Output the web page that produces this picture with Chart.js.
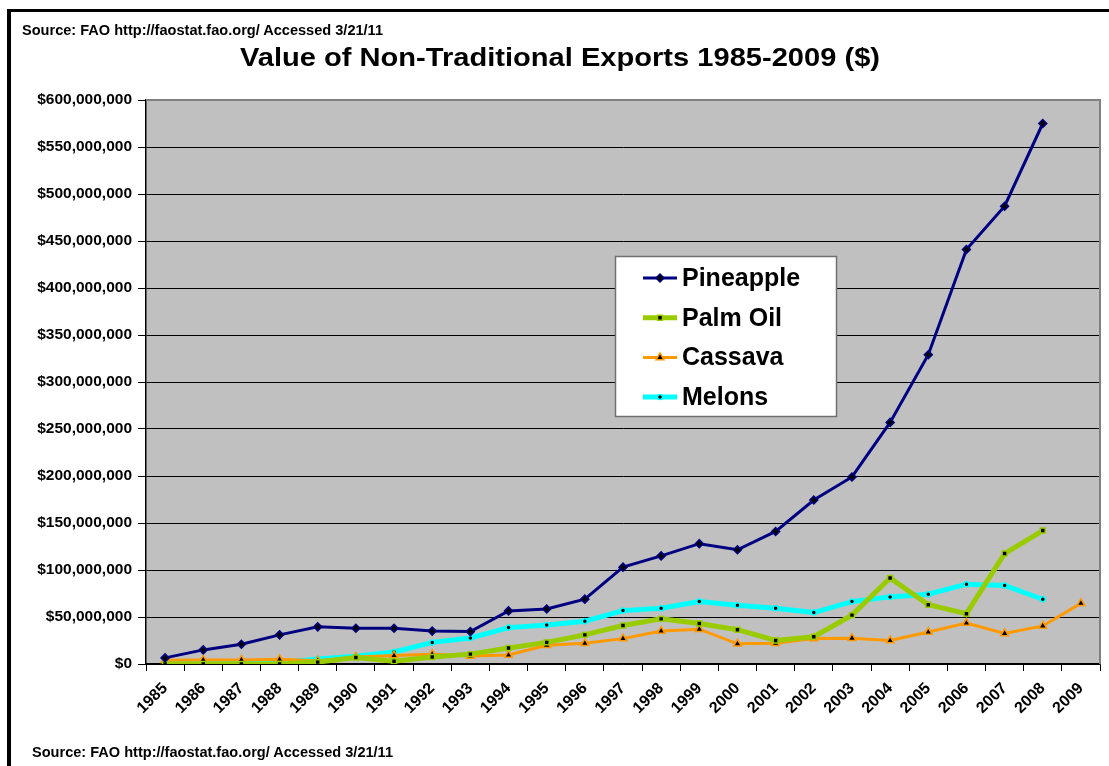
<!DOCTYPE html>
<html>
<head>
<meta charset="utf-8">
<script src="https://cdn.jsdelivr.net/npm/chart.js@4/dist/chart.umd.min.js"></script>
<style>
  html, body { margin: 0; padding: 0; background: #fff; }
  #wrap { position: relative; width: 1109px; height: 766px; overflow: hidden; }
  #frame { position: absolute; left: 7px; top: 9px; width: 1200px; height: 900px;
           border-left: 4px solid #000; border-top: 3px solid #000; box-sizing: border-box; }
  .txt { position: absolute; white-space: nowrap; font-family: Arial, "Liberation Sans", sans-serif;
         font-weight: bold; color: #000; transform-origin: 0 50%; }
  #src1 { left: 22px; top: 22px; font-size: 14px; line-height: 16px; }
  #src2 { left: 32px; top: 744px; font-size: 14px; line-height: 16px; }
  #title { left: 240px; top: 43px; font-size: 25px; line-height: 28px; }
  canvas { position: absolute; left: 0; top: 0; }
</style>
</head>
<body>
<div id="wrap">
  <canvas id="c" width="1109" height="766"></canvas>
  <div id="frame"></div>
  <div class="txt" id="src1" data-w="361">Source: FAO http://faostat.fao.org/ Accessed 3/21/11</div>
  <div class="txt" id="title" data-w="640">Value of Non-Traditional Exports 1985-2009 ($)</div>
  <div class="txt" id="src2" data-w="361">Source: FAO http://faostat.fao.org/ Accessed 3/21/11</div>
</div>
<script>
// Values in millions of US dollars
const years = ['1985','1986','1987','1988','1989','1990','1991','1992','1993','1994','1995','1996',
               '1997','1998','1999','2000','2001','2002','2003','2004','2005','2006','2007','2008','2009'];
const pineapple = [6.5, 15, 21, 31, 39.5, 38, 38, 35, 34.5, 56.5, 58.5, 69, 103, 115, 128, 121.5,
                   141, 174.5, 199, 257, 329, 441, 487, 575, null];
const palmOil   = [0, 0, 0, 0, 2, 7, 3, 7.5, 10.5, 17, 23, 31, 41, 48, 43, 36.5,
                   25, 29, 52, 91.5, 63, 53.5, 117.5, 142, null];
const cassava   = [4, 4.3, 4.3, 5, 3.5, 7.5, 9, 10.5, 8.5, 9.5, 20, 22, 27, 35, 37, 21.5,
                   22, 27, 27.5, 25, 34, 43.5, 32.5, 40.5, 64.5];
const melons    = [0, 0.3, 0.5, 1.3, 5.3, 8.2, 12.8, 23, 27.7, 38.7, 41.6, 45.5, 56.8, 59.3, 66.4, 62.5,
                   59.3, 54.7, 66.4, 71.4, 74.2, 84.9, 83.5, 68.9, null];
const yTickStep = 50, yMax = 600;

const FONT = 'Arial, "Liberation Sans", sans-serif';

// fit the wide, slightly stretched text of the original
document.querySelectorAll('.txt[data-w]').forEach(el => {
  const w = el.getBoundingClientRect().width;
  const target = parseFloat(el.dataset.w);
  if (w > 0) el.style.transform = 'scaleX(' + (target / w) + ')';
});

const plotBg = {
  id: 'plotBg',
  beforeDraw(chart) {
    const {ctx, chartArea: a} = chart;
    ctx.save();
    ctx.fillStyle = '#C0C0C0';
    ctx.fillRect(a.left, a.top, a.right - a.left, a.bottom - a.top);
    ctx.restore();
  },
  afterDraw(chart) {
    const {ctx, chartArea: a} = chart;
    ctx.save();
    ctx.strokeStyle = '#808080';
    ctx.lineWidth = 2;
    ctx.beginPath();
    ctx.moveTo(a.left, a.top);
    ctx.lineTo(a.right, a.top);
    ctx.lineTo(a.right, a.bottom);
    ctx.stroke();
    ctx.restore();
  }
};

const boxLegend = {
  id: 'boxLegend',
  afterDraw(chart) {
    const ctx = chart.ctx;
    const bx = 615, by = 256, bw = 221, bh = 160;
    ctx.save();
    ctx.fillStyle = '#fff';
    ctx.fillRect(bx, by, bw, bh);
    ctx.strokeStyle = '#707070';
    ctx.lineWidth = 1.5;
    ctx.strokeRect(bx + 0.5, by + 0.5, bw, bh);
    chart.data.datasets.forEach((ds, i) => {
      const y = 278 + i * 39.7;
      ctx.strokeStyle = ds.borderColor;
      ctx.lineWidth = ds.borderWidth;
      ctx.beginPath();
      ctx.moveTo(643, y);
      ctx.lineTo(677, y);
      ctx.stroke();
      ctx.fillStyle = ds.pointBackgroundColor;
      ctx.strokeStyle = ds.pointBorderColor;
      ctx.lineWidth = ds.pointBorderWidth;
      Chart.helpers.drawPoint(ctx, {
        pointStyle: ds.pointStyle, radius: ds.pointRadius, borderWidth: ds.pointBorderWidth,
        rotation: 0
      }, 660, y);
      ctx.fillStyle = '#000';
      ctx.font = 'bold 25px ' + FONT;
      ctx.textBaseline = 'middle';
      ctx.textAlign = 'left';
      ctx.fillText(ds.label, 682, y + 1);
    });
    ctx.restore();
  }
};

function series(label, data, color, width, style, radius) {
  return {
    label, data,
    borderColor: color, borderWidth: width,
    pointStyle: style, pointRadius: radius, pointHoverRadius: radius,
    pointBackgroundColor: '#000', pointBorderColor: color, pointBorderWidth: 1.5,
    fill: false, tension: 0, spanGaps: false
  };
}

new Chart(document.getElementById('c'), {
  type: 'line',
  data: {
    labels: years,
    datasets: [
      series('Pineapple', pineapple, '#000080', 3, 'rectRot', 4),
      series('Palm Oil', palmOil, '#99CC00', 5, 'rect', 3.5),
      series('Cassava', cassava, '#FF9900', 3, 'triangle', 4.5),
      series('Melons', melons, '#00FFFF', 5, 'circle', 2.5)
    ]
  },
  options: {
    responsive: false,
    animation: false,
    devicePixelRatio: 1,
    layout: { padding: { left: 0, top: 100, right: 9, bottom: 0 } },
    plugins: { legend: { display: false }, title: { display: false }, tooltip: { enabled: false } },
    scales: {
      x: {
        type: 'category',
        offset: true,
        grid: { offset: true, drawOnChartArea: false, drawTicks: true, tickLength: 7, color: '#000', lineWidth: 1 },
        border: { display: true, color: '#000', width: 1.5 },
        ticks: {
          autoSkip: false, minRotation: 45, maxRotation: 45, padding: 8,
          color: '#000', font: { family: FONT, size: 16, weight: 'bold' }
        },
        afterFit(scale) { scale.height = 102; }
      },
      y: {
        min: 0, max: yMax,
        grid: { color: '#000', lineWidth: 1, tickLength: 8, drawTicks: true },
        border: { display: true, color: '#000', width: 1.5 },
        ticks: {
          stepSize: yTickStep, padding: 6, color: '#000',
          font: { family: FONT, size: 15.5, weight: 'bold' },
          callback: v => '$' + (v * 1e6).toLocaleString('en-US')
        },
        afterFit(scale) { scale.width = 146; }
      }
    }
  },
  plugins: [plotBg, boxLegend]
});
</script>
</body>
</html>
